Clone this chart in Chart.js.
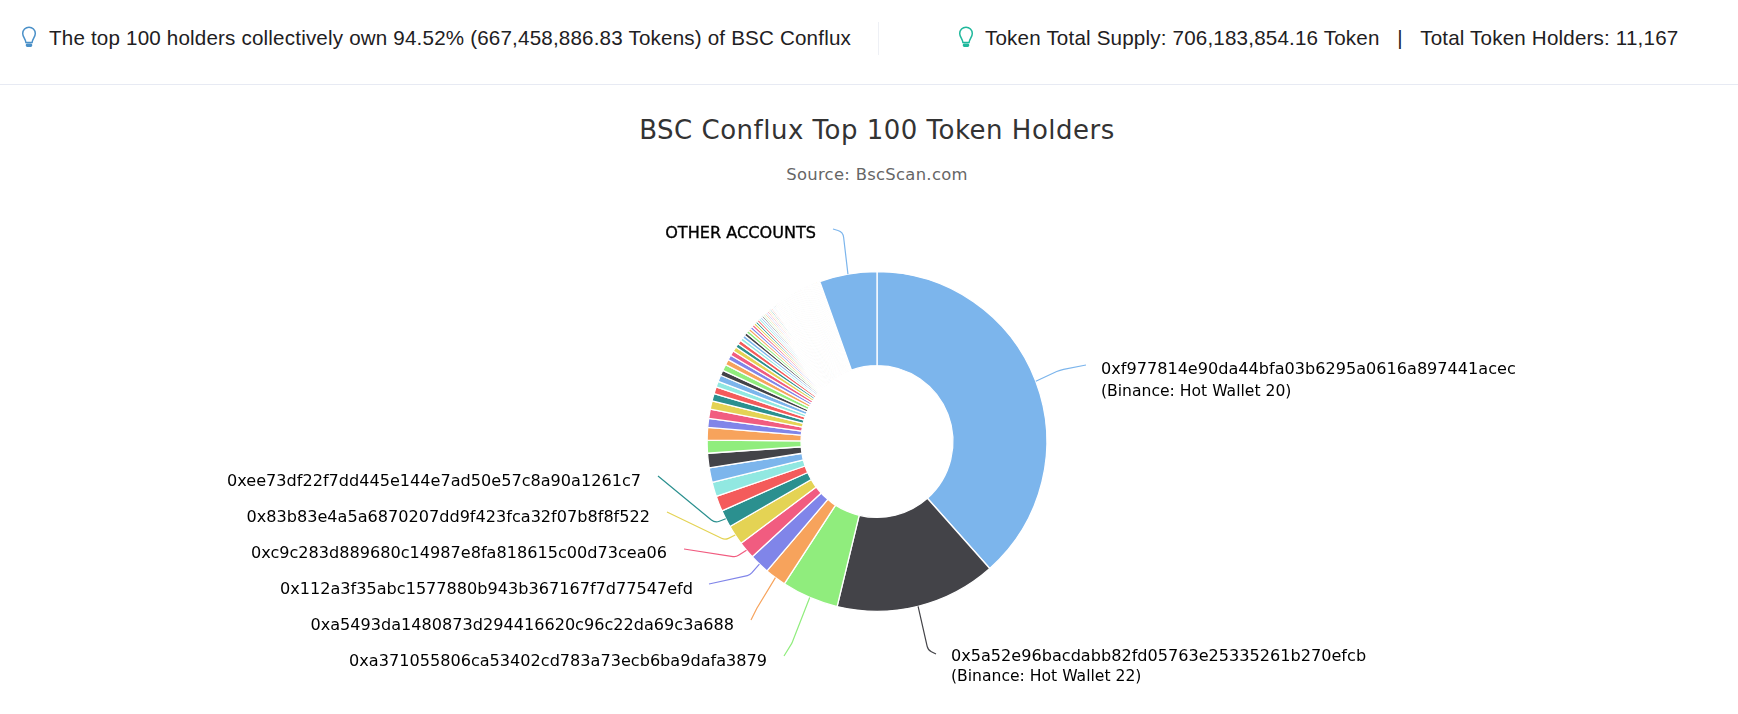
<!DOCTYPE html>
<html>
<head>
<meta charset="utf-8">
<title>BSC Conflux Top 100 Token Holders</title>
<script src="https://cdn.jsdelivr.net/npm/chart.js@4"></script>
<style>
  html, body { margin: 0; padding: 0; background: #fff; }
  body { width: 1738px; height: 714px; position: relative; overflow: hidden; }
  #holders-chart { position: absolute; left: 0; top: 0; }
  .note { position: absolute; top: 25px; font: 20.6px/26px "Liberation Sans", Arial, sans-serif; letter-spacing: .18px; color: #1e2022; white-space: nowrap; }
  .bulb { position: absolute; top: 26px; width: 16px; height: 22px; }
  #divider { position: absolute; left: 878px; top: 22px; width: 1px; height: 33px; background: #eef0f5; }
  #rule { position: absolute; left: 0; top: 84px; width: 1738px; height: 1px; background: #e7eaf3; }
  .heading { position: absolute; left: 0; width: 1754px; text-align: center; font-family: "DejaVu Sans", sans-serif; white-space: nowrap; }
  #title { top: 114px; font-size: 26px; line-height: 32px; color: #333; letter-spacing: .5px; }
  #subtitle { top: 165px; font-size: 16.4px; line-height: 20px; color: #666; letter-spacing: .3px; }
</style>
</head>
<body>
<svg class="bulb" style="left:21px" viewBox="0 0 16 22"><path d="M8 1.2a6.3 6.3 0 0 0-6.3 6.3c0 3.4 2.8 5 3.2 9h6.2c.4-4 3.2-5.6 3.2-9A6.3 6.3 0 0 0 8 1.2z" fill="none" stroke="#4a90c8" stroke-width="1.5"/><rect x="4.8" y="17.4" width="6.4" height="3.6" rx="1.4" fill="#4a90c8"/></svg>
<div class="note" style="left:49px">The top 100 holders collectively own 94.52% (667,458,886.83 Tokens) of BSC Conflux</div>
<div id="divider"></div>
<svg class="bulb" style="left:958px" viewBox="0 0 16 22"><path d="M8 1.2a6.3 6.3 0 0 0-6.3 6.3c0 3.4 2.8 5 3.2 9h6.2c.4-4 3.2-5.6 3.2-9A6.3 6.3 0 0 0 8 1.2z" fill="none" stroke="#1fb89c" stroke-width="1.5"/><rect x="4.8" y="17.4" width="6.4" height="3.6" rx="1.4" fill="#1fb89c"/></svg>
<div class="note" style="left:985px">Token Total Supply: 706,183,854.16 Token &nbsp; | &nbsp; Total Token Holders: 11,167</div>
<div id="rule"></div>
<div id="title" class="heading">BSC Conflux Top 100 Token Holders</div>
<div id="subtitle" class="heading">Source: BscScan.com</div>
<canvas id="holders-chart" width="1738" height="714"></canvas>
<script>
// Share of the total supply (%), largest holders first
const holderShares = [
  38.5, 15.35, 5.42, 2.03, 1.92, 1.64, 1.89, 1.65, 1.47, 1.36,
  1.4, 1.37, 1.23, 1.2, 0.85, 0.88, 0.8, 0.71, 0.65, 0.56,
  0.61, 0.51, 0.59, 0.53, 0.47, 0.47, 0.44, 0.38, 0.39, 0.3,
  0.3, 0.3, 0.28, 0.26, 0.25, 0.24, 0.23, 0.22, 0.21, 0.2,
  0.19, 0.18, 0.17, 0.17, 0.16, 0.16, 0.15, 0.15, 0.14, 0.14,
  0.14, 0.13, 0.13, 0.12, 0.12, 0.12, 0.12, 0.12, 0.12, 0.11,
  0.11, 0.11, 0.11, 0.11, 0.11, 0.11, 0.11, 0.11, 0.1, 0.1,
  0.1, 0.1, 0.1, 0.1, 0.1, 0.1, 0.1, 0.1, 0.1, 0.09,
  0.09, 0.09, 0.09, 0.09, 0.09, 0.09, 0.09, 0.09, 0.09, 0.08,
  0.08, 0.08, 0.08, 0.08, 0.08, 0.08, 0.08, 0.08, 0.08, 0.08,
];
const otherShare = [5.48];

// Slice number of each named holder, and its label
const namedSlices = [0, 1, 2, 3, 4, 5, 6, 7, 100];
const namedLabels = [
  ['0xf977814e90da44bfa03b6295a0616a897441acec', '(Binance: Hot Wallet 20)'],
  ['0x5a52e96bacdabb82fd05763e25335261b270efcb', '(Binance: Hot Wallet 22)'],
  ['0xa371055806ca53402cd783a73ecb6ba9dafa3879'],
  ['0xa5493da1480873d294416620c96c22da69c3a688'],
  ['0x112a3f35abc1577880b943b367167f7d77547efd'],
  ['0xc9c283d889680c14987e8fa818615c00d73cea06'],
  ['0x83b83e4a5a6870207dd9f423fca32f07b8f8f522'],
  ['0xee73df22f7dd445e144e7ad50e57c8a90a1261c7'],
  ['OTHER ACCOUNTS'],
];

const palette = ['#7cb5ec', '#434348', '#90ed7d', '#f7a35c', '#8085e9', '#f15c80', '#e4d354', '#2b908f', '#f45b5b', '#91e8e1'];

// Where each label sits: text anchor, start of its connector and the connector's bend
const labelPlaces = [
  { x: 1101, y: 370, gap: 22, align: 'left', from: [1086, 365], bend: [1060, 370], round: 30 },
  { x: 951, y: 657, gap: 20, align: 'left', from: [936, 654], bend: [928, 650] },
  { x: 767, y: 662, align: 'right', from: [784, 656], bend: [792, 643] },
  { x: 734, y: 626, align: 'right', from: [751, 620], bend: [757, 608] },
  { x: 693, y: 590, align: 'right', from: [709, 584], bend: [750, 575] },
  { x: 667, y: 554, align: 'right', from: [684, 549], bend: [736, 557] },
  { x: 650, y: 518, align: 'right', from: [667, 512], bend: [725, 540] },
  { x: 641, y: 482, align: 'right', from: [658, 476], bend: [715, 523] },
  { x: 816, y: 234, align: 'right', from: [833, 229], bend: [843, 232], heavy: true },
];

// Draws the labels and their thin connectors from the arcs the chart laid out
const sliceLabels = {
  id: 'sliceLabels',
  afterDraw(chart) {
    const { ctx } = chart;
    const arcs = chart.getDatasetMeta(0).data;
    namedSlices.forEach((slice, n) => {
      const arc = arcs[slice].getProps(['x', 'y', 'startAngle', 'endAngle', 'outerRadius'], true);
      const mid = (arc.startAngle + arc.endAngle) / 2;
      const edgeX = arc.x + Math.cos(mid) * arc.outerRadius;
      const edgeY = arc.y + Math.sin(mid) * arc.outerRadius;
      const place = labelPlaces[n];

      ctx.save();
      ctx.strokeStyle = palette[slice % palette.length];
      ctx.lineWidth = 1.2;
      ctx.beginPath();
      ctx.moveTo(place.from[0], place.from[1]);
      ctx.arcTo(place.bend[0], place.bend[1], edgeX, edgeY, place.round || 8);
      ctx.lineTo(edgeX, edgeY);
      ctx.stroke();

      ctx.fillStyle = '#000';
      ctx.font = '16.1px "DejaVu Sans", sans-serif';
      ctx.textAlign = place.align;
      ctx.textBaseline = 'middle';
      namedLabels[n].forEach((line, i) => {
        if (i > 0) ctx.font = '15.6px "DejaVu Sans", sans-serif';
        ctx.fillText(line, place.x, place.y + i * (place.gap || 0));
      });
      if (place.heavy) {
        // the reference's caps read a little heavier than regular weight
        ctx.strokeStyle = '#000';
        ctx.lineWidth = 0.35;
        ctx.strokeText(namedLabels[n][0], place.x, place.y);
      }
      ctx.restore();
    });
  },
};

const shares = holderShares.concat(otherShare);

new Chart(document.getElementById('holders-chart'), {
  type: 'doughnut',
  data: {
    labels: shares.map((share, i) => `Holder ${i + 1}`),
    datasets: [{
      data: shares,
      backgroundColor: shares.map((share, i) => palette[i % palette.length]),
      borderColor: '#fff',
      borderWidth: 1.3,
      hoverOffset: 0,
    }],
  },
  options: {
    responsive: false,
    animation: false,
    cutout: '44.7%',
    layout: { padding: { left: 706.5, right: 690.5, top: 271, bottom: 102 } },
    plugins: {
      legend: { display: false },
      tooltip: { enabled: false },
    },
  },
  plugins: [sliceLabels],
});
</script>
</body>
</html>
